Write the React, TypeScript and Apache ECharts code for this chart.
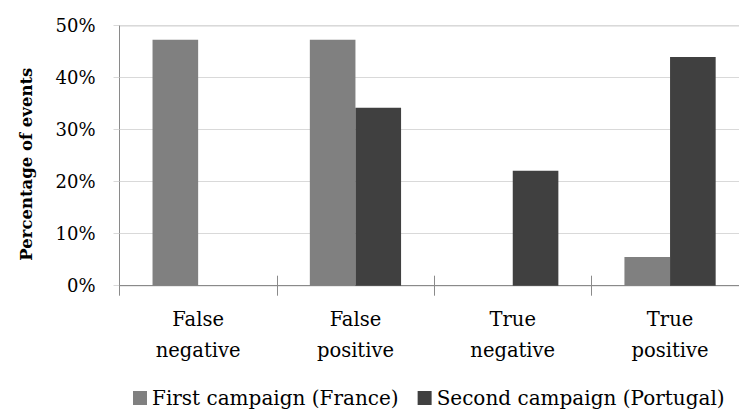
import React, { useEffect, useRef } from "react";
import * as echarts from "echarts";

const categories = ["False\nnegative", "False\npositive", "True\nnegative", "True\npositive"];
const firstCampaign = [47.3, 47.3, 0, 5.5];
const secondCampaign = [0, 34.2, 22.1, 44.0];
const seriesNames = ["First campaign (France)", "Second campaign (Portugal)"];
const yTicks = { min: 0, max: 50, interval: 10 };

const FONT = "'DejaVu Serif', serif";

export default function App() {
  const ref = useRef<HTMLDivElement>(null);
  useEffect(() => {
    if (!ref.current) return;
    const chart = echarts.init(ref.current, null, { renderer: "svg" });
    chart.setOption({
      animation: false,
      backgroundColor: "#ffffff",
      grid: {
        left: 119.5,
        top: 25.7,
        width: 629.2,
        height: 260,
        outerBoundsMode: "none",
        show: true,
        borderColor: "#8a8a8a",
        borderWidth: 1,
        containLabel: false,
      },
      legend: {
        left: 133,
        top: 388,
        padding: 0,
        icon: "rect",
        itemWidth: 14,
        itemHeight: 14,
        itemGap: 19,
        textStyle: { fontFamily: FONT, fontSize: 20, color: "#000" },
        data: seriesNames,
      },
      xAxis: [
        {
          type: "category",
          data: categories,
          axisLine: { lineStyle: { color: "#8a8a8a", width: 1 } },
          axisTick: { show: true, length: 10, inside: false, lineStyle: { color: "#8a8a8a" } },
          axisLabel: {
            fontFamily: FONT,
            fontSize: 19.5,
            lineHeight: 31,
            color: "#000",
            margin: 18,
            interval: 0,
          },
          splitLine: { show: false },
        },
        {
          type: "category",
          data: categories,
          position: "bottom",
          axisLine: { show: false },
          axisTick: { show: true, length: 10, inside: true, lineStyle: { color: "#8a8a8a" } },
          axisLabel: { show: false },
          splitLine: { show: false },
        },
      ],
      yAxis: {
        type: "value",
        min: yTicks.min,
        max: yTicks.max,
        interval: yTicks.interval,
        name: "Percentage of events",
        nameLocation: "middle",
        nameGap: 85,
        nameTextStyle: {
          fontFamily: FONT,
          fontSize: 16.5,
          fontWeight: "bold",
          color: "#000",
          padding: [0, 17, 0, 0],
        },
        axisLine: { show: true, lineStyle: { color: "#8a8a8a" } },
        axisTick: { show: true, length: 6, lineStyle: { color: "#d9d9d9" } },
        axisLabel: {
          formatter: "{value}%",
          fontFamily: FONT,
          fontSize: 18,
          color: "#000",
          margin: 24,
        },
        splitLine: { show: true, lineStyle: { color: "#d9d9d9", width: 1 } },
      },
      series: [
        {
          name: seriesNames[0],
          type: "bar",
          data: firstCampaign,
          itemStyle: { color: "#808080" },
          barGap: "0%",
          barCategoryGap: "42%",
        },
        {
          name: seriesNames[1],
          type: "bar",
          data: secondCampaign,
          itemStyle: { color: "#404040" },
          barGap: "0%",
          barCategoryGap: "42%",
        },
      ],
    });
    return () => chart.dispose();
  }, []);
  return (
    <div
      ref={ref}
      style={{ position: "fixed", left: 0, top: 0, width: 739, height: 415 }}
    />
  );
}
